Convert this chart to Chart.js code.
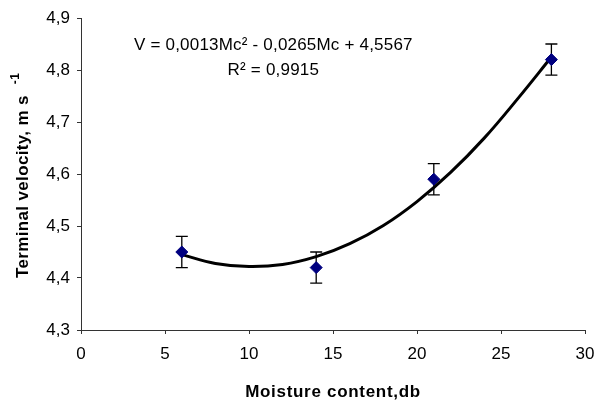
<!DOCTYPE html>
<html>
<head>
<meta charset="utf-8">
<script src="https://cdn.jsdelivr.net/npm/chart.js@4"></script>
<style>
  html, body { margin: 0; padding: 0; background: #fff; }
  #wrap { width: 597px; height: 405px; }
</style>
</head>
<body>
<div id="wrap"><canvas id="chart" width="597" height="405"></canvas></div>
<script>
// measured points (moisture content, terminal velocity) with error bars
const moisture = [6, 14, 21, 28];
const velocity = [4.45, 4.42, 4.59, 4.82];
const velocityErr = [0.03, 0.03, 0.03, 0.03];

// trend curve
const curveX = [6, 8, 10, 12, 14, 16, 18, 20, 22, 24, 26, 28];
const curveY = [4.445, 4.428, 4.422, 4.426, 4.441, 4.466, 4.501, 4.547, 4.603, 4.669, 4.745, 4.825];

const xTicks = [0, 5, 10, 15, 20, 25, 30];
const yTicks = [4.3, 4.4, 4.5, 4.6, 4.7, 4.8, 4.9];

const equationLines = ['V = 0,0013Mc² - 0,0265Mc + 4,5567', 'R² = 0,9915'];
const xTitle = 'Moisture content,db';
const yTitle = 'Terminal velocity, m s';
const yTitleSup = '-1';

const FONT = 'Arial, "Liberation Sans", sans-serif';

// error bars drawn through the chart scales
const errorBars = {
    id: 'errorBars',
    beforeDatasetsDraw(chart) {
        const { ctx, scales: { x, y } } = chart;
        ctx.save();
        ctx.strokeStyle = '#000';
        ctx.lineWidth = 1.3;
        moisture.forEach((m, i) => {
            const px = x.getPixelForValue(m);
            const top = y.getPixelForValue(velocity[i] + velocityErr[i]);
            const bot = y.getPixelForValue(velocity[i] - velocityErr[i]);
            ctx.beginPath();
            ctx.moveTo(px, top);
            ctx.lineTo(px, bot);
            ctx.moveTo(px - 6, top);
            ctx.lineTo(px + 6, top);
            ctx.moveTo(px - 6, bot);
            ctx.lineTo(px + 6, bot);
            ctx.stroke();
        });
        ctx.restore();
    }
};

// regression equation and axis titles (letter-spaced, with superscript)
const textLabels = {
    id: 'textLabels',
    afterDraw(chart) {
        const { ctx, chartArea, scales: { x, y } } = chart;
        ctx.save();
        ctx.fillStyle = '#000';

        ctx.letterSpacing = '0.2px';
        ctx.font = '17px ' + FONT;
        ctx.textAlign = 'center';
        ctx.textBaseline = 'alphabetic';
        ctx.fillText(equationLines[0], x.getPixelForValue(11.45), y.getPixelForValue(4.8385));
        ctx.fillText(equationLines[1], x.getPixelForValue(11.45), y.getPixelForValue(4.790));

        // x title
        ctx.letterSpacing = '0.7px';
        ctx.font = 'bold 17px ' + FONT;
        ctx.fillText(xTitle, (chartArea.left + chartArea.right) / 2, 397);

        // y title, rotated
        ctx.letterSpacing = '0.35px';
        ctx.translate(23, 278);
        ctx.rotate(-Math.PI / 2);
        ctx.textAlign = 'left';
        ctx.textBaseline = 'middle';
        ctx.fillText(yTitle, 0, 0);
        const w = ctx.measureText(yTitle).width;
        ctx.font = 'bold 12px ' + FONT;
        ctx.fillText(yTitleSup, w + 11, -7);
        ctx.restore();
    }
};

const config = {
    type: 'scatter',
    data: {
        datasets: [
            {
                label: 'Measured',
                data: moisture.map((m, i) => ({ x: m, y: velocity[i] })),
                pointStyle: 'rectRot',
                pointRadius: 6,
                backgroundColor: '#000080',
                borderColor: '#000080',
                borderWidth: 1,
                order: 0
            },
            {
                label: 'Trend',
                data: curveX.map((m, i) => ({ x: m, y: curveY[i] })),
                showLine: true,
                pointRadius: 0,
                borderColor: '#000',
                borderWidth: 3,
                tension: 0.4,
                fill: false,
                order: 1
            }
        ]
    },
    options: {
        responsive: false,
        animation: false,
        layout: { padding: { top: 18, right: 12, left: 0, bottom: 0 } },
        plugins: {
            legend: { display: false },
            tooltip: { enabled: false }
        },
        scales: {
            x: {
                type: 'linear',
                min: 0,
                max: 30,
                afterBuildTicks: (scale) => { scale.ticks = xTicks.map(v => ({ value: v })); },
                afterFit: (scale) => {
                    scale.height = 75;
                    scale.paddingLeft = 0;
                    scale.paddingRight = 0;
                },
                grid: { drawOnChartArea: false, drawTicks: true, tickLength: 4, tickColor: '#333' },
                border: { color: '#333', width: 1 },
                ticks: { color: '#000', font: { family: FONT, size: 17 }, padding: 10, maxRotation: 0 }
            },
            y: {
                type: 'linear',
                min: 4.3,
                max: 4.9,
                afterBuildTicks: (scale) => { scale.ticks = yTicks.map(v => ({ value: v })); },
                afterFit: (scale) => {
                    scale.width = 81;
                    scale.paddingTop = 0;
                    scale.paddingBottom = 0;
                },
                grid: { drawOnChartArea: false, drawTicks: true, tickLength: 4, tickColor: '#333' },
                border: { color: '#333', width: 1 },
                ticks: {
                    color: '#000',
                    font: { family: FONT, size: 17 },
                    padding: 7,
                    callback: (v) => v.toFixed(1).replace('.', ',')
                }
            }
        }
    },
    plugins: [errorBars, textLabels]
};

new Chart(document.getElementById('chart').getContext('2d'), config);
</script>
</body>
</html>
